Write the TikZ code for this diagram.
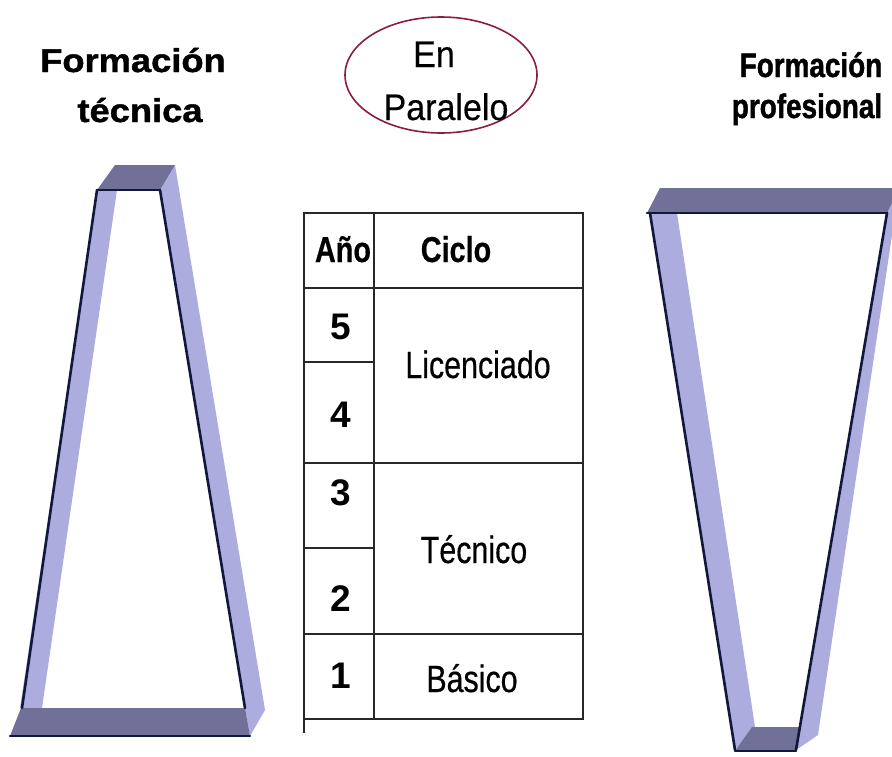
\documentclass[tikz,border=0pt]{standalone}
\usepackage{fontspec}
\setmainfont{Liberation Sans}
\newfontfamily\titleLfont[FakeStretch=1.1,FakeBold=1.2]{Liberation Sans}
\newfontfamily\titleRfont[FakeStretch=0.82,FakeBold=1.2]{Liberation Sans}
\newfontfamily\narrowfont[FakeStretch=0.8,FakeBold=0.4]{Liberation Sans}
\newfontfamily\ovalfont[FakeStretch=0.92,FakeBold=0.4]{Liberation Sans}
\usetikzlibrary{shapes.geometric}
\definecolor{band}{RGB}{172,172,222}
\definecolor{slab}{RGB}{112,112,152}
\definecolor{edgeblue}{RGB}{18,24,60}
\definecolor{ovalred}{RGB}{140,30,60}
\definecolor{rulegray}{RGB}{40,40,40}
\begin{document}
\begin{tikzpicture}[x=1pt,y=1pt,
  bandface/.style={fill=band, draw=none},
  slabface/.style={fill=slab, draw=none},
  frontedge/.style={draw=edgeblue, line width=2.6pt, line cap=round},
  tline/.style={draw=rulegray, line width=1.3pt},
  cell/.style={font=\narrowfont\fontsize{38}{40}\selectfont, inner sep=0pt, anchor=base},
  headcell/.style={font=\narrowfont\bfseries\fontsize{36}{40}\selectfont, inner sep=0pt, anchor=base},
  num/.style={font=\bfseries\fontsize{37}{40}\selectfont, inner sep=0pt, anchor=base},
  titleL/.style={font=\titleLfont\bfseries\fontsize{33}{40}\selectfont, inner sep=0pt, anchor=base},
  titleR/.style={font=\titleRfont\bfseries\fontsize{34}{40}\selectfont, inner sep=0pt, anchor=base},
  ovaltext/.style={font=\ovalfont\fontsize{37}{40}\selectfont, inner sep=0pt, anchor=base}
]
\useasboundingbox (0,0) rectangle (892,-756);
\fill[white] (0,0) rectangle (892,-756);

% ---------- titles ----------
\node[titleL] (tl1) at (133,-72) {Formación};
\node[titleL] (tl2) at (140,-122) {técnica};
\node[titleR] (tr1) at (811,-77) {Formación};
\node[titleR] (tr2) at (807,-118) {profesional};

% ---------- ellipse ----------
\node[ellipse, draw=ovalred, line width=1.6pt, minimum width=192pt, minimum height=116pt] (par) at (441,-75) {};
\node[ovaltext] (en) at (434,-67) {En};
\node[ovaltext] (paralelo) at (446,-120) {Paralelo};

% ---------- left 3D trapezoid (Formación técnica) ----------
\path[bandface] (97,-190) -- (117,-190) -- (42,-708) -- (20,-708) -- cycle;
\path[bandface] (160,-190) -- (175,-165) -- (265,-710) -- (250,-736) -- (245,-708) -- cycle;
\path[slabface] (97,-190) -- (115,-165) -- (175,-165) -- (160,-190) -- cycle;
\path[slabface] (21,-708) -- (245,-708) -- (250,-736) -- (10,-736) -- cycle;
\draw[frontedge] (97,-190) -- (160,-190);
\draw[frontedge] (97,-190) -- (22,-708);
\draw[frontedge] (160,-190) -- (245,-708);
\draw[frontedge] (10,-736) -- (250,-736);

% ---------- right 3D trapezoid (Formación profesional) ----------
\path[bandface] (650,-213) -- (677,-213) -- (755,-727) -- (735,-750) -- cycle;
\path[bandface] (887,-213) -- (892,-203) -- (892,-235) -- (818,-735) -- (796,-750) -- cycle;
\path[slabface] (647,-213) -- (660,-188) -- (892,-188) -- (892,-203) -- (887,-213) -- cycle;
\path[slabface] (735,-751) -- (752,-727) -- (800,-727) -- (796,-751) -- cycle;
\draw[frontedge] (647,-213) -- (887,-213);
\draw[frontedge] (650,-213) -- (735,-750);
\draw[frontedge] (887,-213) -- (796,-750);
\draw[frontedge] (735,-751) -- (796,-751);

% ---------- table ----------
\coordinate (tTL) at (304,-213);
\coordinate (tBR) at (583,-719);
\draw[tline] (tTL) rectangle (tBR);
\draw[tline] (304,-719) -- (304,-733);
\draw[tline] (374,-213) -- (374,-719);
\draw[tline] (304,-288) -- (583,-288);
\draw[tline] (304,-463) -- (583,-463);
\draw[tline] (304,-634) -- (583,-634);
\draw[tline] (304,-362) -- (374,-362);
\draw[tline] (304,-548) -- (374,-548);

\node[headcell] (ano) at (343,-262) {Año};
\node[headcell] (ciclo) at (456,-262) {Ciclo};
\node[num] (n5) at (341,-339) {5};
\node[num] (n4) at (341,-427) {4};
\node[num] (n3) at (341,-505) {3};
\node[num] (n2) at (341,-611) {2};
\node[num] (n1) at (341,-688) {1};
\node[cell] (lic) at (478,-378) {Licenciado};
\node[cell] (tec) at (474,-563) {Técnico};
\node[cell] (bas) at (472,-692) {Básico};
\end{tikzpicture}
\end{document}
